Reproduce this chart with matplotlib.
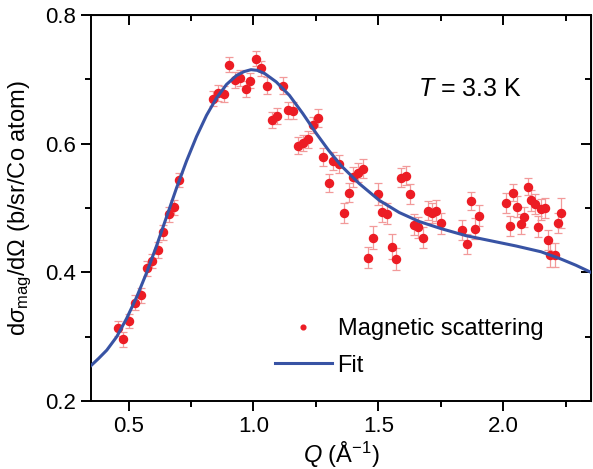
import numpy as np
import matplotlib
matplotlib.use("Agg")
import matplotlib.pyplot as plt
from matplotlib.lines import Line2D
from matplotlib.ticker import MultipleLocator

plt.rcParams['font.family'] = ['Liberation Sans', 'DejaVu Sans']
plt.rcParams['mathtext.fontset'] = 'custom'
plt.rcParams['mathtext.rm'] = 'Liberation Sans'
plt.rcParams['mathtext.it'] = 'Liberation Sans:italic'

q = [0.457, 0.479, 0.503, 0.526, 0.548, 0.572, 0.592, 0.616, 0.639, 0.660,
     0.682, 0.702, 0.838, 0.858, 0.881, 0.902, 0.925, 0.945, 0.969, 0.988,
     1.011, 1.031, 1.054, 1.075, 1.095, 1.117, 1.137, 1.157, 1.177, 1.197,
     1.217, 1.240, 1.260, 1.280, 1.301, 1.319, 1.341, 1.361, 1.381, 1.398,
     1.418, 1.437, 1.458, 1.477, 1.497, 1.514, 1.534, 1.553, 1.572, 1.590,
     1.610, 1.627, 1.643, 1.660, 1.680, 1.697, 1.716, 1.732, 1.752, 1.836,
     1.853, 1.869, 1.885, 1.902, 2.009, 2.026, 2.040, 2.055, 2.069, 2.084,
     2.098, 2.112, 2.125, 2.140, 2.150, 2.167, 2.179, 2.188, 2.205, 2.218,
     2.230]
s = [0.313, 0.296, 0.325, 0.353, 0.364, 0.406, 0.417, 0.435, 0.462, 0.490,
     0.501, 0.544, 0.670, 0.679, 0.677, 0.723, 0.699, 0.702, 0.685, 0.698,
     0.732, 0.717, 0.690, 0.637, 0.643, 0.690, 0.652, 0.651, 0.597, 0.601,
     0.607, 0.629, 0.640, 0.580, 0.539, 0.573, 0.569, 0.492, 0.524, 0.548,
     0.555, 0.561, 0.423, 0.454, 0.522, 0.494, 0.491, 0.440, 0.421, 0.547,
     0.550, 0.522, 0.474, 0.470, 0.454, 0.496, 0.492, 0.496, 0.476, 0.466,
     0.444, 0.511, 0.468, 0.488, 0.508, 0.472, 0.524, 0.502, 0.475, 0.486,
     0.533, 0.512, 0.506, 0.471, 0.498, 0.500, 0.450, 0.427, 0.427, 0.477,
     0.492]
err = [0.012, 0.012, 0.011, 0.011, 0.011, 0.012, 0.011, 0.012, 0.011, 0.012,
       0.012, 0.011, 0.012, 0.012, 0.012, 0.012, 0.012, 0.012, 0.012, 0.012,
       0.012, 0.012, 0.013, 0.013, 0.013, 0.013, 0.013, 0.013, 0.013, 0.013,
       0.013, 0.013, 0.014, 0.014, 0.014, 0.014, 0.014, 0.015, 0.015, 0.015,
       0.015, 0.015, 0.016, 0.018, 0.017, 0.016, 0.016, 0.019, 0.017, 0.015,
       0.015, 0.016, 0.016, 0.016, 0.016, 0.015, 0.016, 0.016, 0.016, 0.015,
       0.016, 0.014, 0.016, 0.016, 0.015, 0.016, 0.013, 0.016, 0.016, 0.016,
       0.013, 0.016, 0.016, 0.016, 0.016, 0.016, 0.016, 0.018, 0.018, 0.016,
       0.023]

# fit curve, sampled off the figure
q_fit = [0.350, 0.380, 0.413, 0.453, 0.492, 0.532, 0.572, 0.612, 0.652, 0.692,
         0.732, 0.772, 0.812, 0.852, 0.892, 0.932, 0.962, 0.990, 1.015, 1.045,
         1.091, 1.144, 1.197, 1.251, 1.300, 1.350, 1.423, 1.503, 1.583, 1.663,
         1.750, 1.850, 1.950, 2.050, 2.150, 2.228, 2.290, 2.350]
s_fit = [0.255, 0.266, 0.279, 0.300, 0.328, 0.361, 0.399, 0.441, 0.486, 0.531,
         0.573, 0.611, 0.644, 0.671, 0.692, 0.706, 0.712, 0.715, 0.714, 0.709,
         0.696, 0.675, 0.647, 0.616, 0.590, 0.566, 0.538, 0.512, 0.493, 0.479,
         0.468, 0.457, 0.449, 0.441, 0.432, 0.421, 0.411, 0.400]

red = '#ec1c24'
blue = '#3853a4'

fig = plt.figure(figsize=(5.93, 4.69), dpi=100)
ax = fig.add_axes([0.1535, 0.145, 0.843, 0.823])

ax.errorbar(q, s, yerr=err, fmt='o', color=red, ms=5.8, mec=red,
            ecolor='#f29a9a', elinewidth=0.9, capsize=3, capthick=0.9, zorder=3)
ax.plot(q_fit, s_fit, color=blue, lw=2.2, zorder=4)

ax.set_xlim(0.35, 2.35)
ax.set_ylim(0.2, 0.8)
ax.xaxis.set_major_locator(MultipleLocator(0.5))
ax.xaxis.set_minor_locator(MultipleLocator(0.25))
ax.yaxis.set_major_locator(MultipleLocator(0.2))
ax.yaxis.set_minor_locator(MultipleLocator(0.1))
ax.xaxis.set_major_formatter(matplotlib.ticker.FormatStrFormatter('%.1f'))
ax.yaxis.set_major_formatter(matplotlib.ticker.FormatStrFormatter('%.1f'))

for sp in ax.spines.values():
    sp.set_linewidth(1.4)
ax.tick_params(which='both', direction='out', width=1.4, labelsize=16,
               top=False, right=False)
ax.tick_params(which='major', length=7)
ax.tick_params(which='minor', length=4.5)

# mirrored inward ticks on top and right
axt = ax.secondary_xaxis('top')
axt.xaxis.set_major_locator(MultipleLocator(0.5))
axt.xaxis.set_minor_locator(MultipleLocator(0.25))
axt.tick_params(which='both', direction='in', width=1.4, labeltop=False)
axt.tick_params(which='major', length=7)
axt.tick_params(which='minor', length=4.5)
axr = ax.secondary_yaxis('right')
axr.yaxis.set_major_locator(MultipleLocator(0.2))
axr.yaxis.set_minor_locator(MultipleLocator(0.1))
axr.tick_params(which='both', direction='in', width=1.4, labelright=False)
axr.tick_params(which='major', length=7)
axr.tick_params(which='minor', length=4.5)

ax.set_xlabel(r'$Q$ (Å$^{\mathrm{-1}}$)', fontsize=17, labelpad=2)
ax.set_ylabel(r'd$\sigma_{\mathrm{mag}}$/d$\Omega$ (b/sr/Co atom)', fontsize=17, labelpad=8)

ax.text(1.66, 0.674, r'$T$ = 3.3 K', fontsize=18, ha='left', va='baseline')

handles = [Line2D([], [], ls='none', marker='o', color=red, ms=3.4),
           Line2D([], [], color=blue, lw=2.2)]
ax.legend(handles, ['Magnetic scattering', 'Fit'], loc='upper left',
          bbox_to_anchor=(0.368, 0.214), frameon=False, fontsize=17,
          handlelength=2.4, handletextpad=0.25, borderpad=0, borderaxespad=0,
          labelspacing=0.6)

fig.savefig('out.png', dpi=100)
